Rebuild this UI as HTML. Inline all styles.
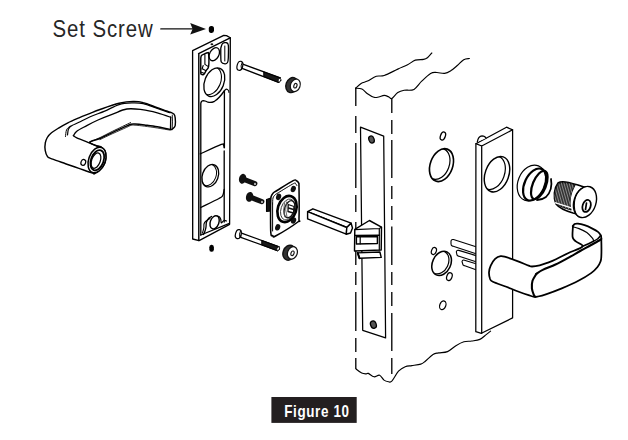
<!DOCTYPE html>
<html><head><meta charset="utf-8"><style>
html,body{margin:0;padding:0;background:#fff;}
body{width:628px;height:440px;overflow:hidden;position:relative;}
svg{position:absolute;left:0;top:0;}
.t{position:absolute;font-family:"Liberation Sans",sans-serif;white-space:nowrap;}
</style></head><body>
<svg width="628" height="440" viewBox="0 0 628 440">
<g stroke="#000" stroke-linecap="round" stroke-linejoin="round" fill="none">
<path d="M355.6,88.2 C356.5,87.4 359.1,84.6 361.1,83.4 C363.1,82.2 365.0,82.3 367.5,81.1 C370.0,79.9 373.5,77.2 376.3,76.3 C379.1,75.4 380.6,76.7 384.2,75.5 C387.8,74.3 393.9,70.9 397.8,69.1 C401.7,67.3 404.7,66.3 407.6,64.8 C410.5,63.3 412.6,61.0 415.3,60.1 C418.0,59.2 421.6,59.8 423.6,59.4 C425.6,59.0 426.0,58.9 427.4,57.8 C428.8,56.7 431.1,53.8 431.8,53.0" fill="none" stroke-width="1.16" />
<path d="M355.6,88.2 C356.7,88.3 359.9,88.1 361.9,89.0 C363.9,89.9 365.5,92.4 367.5,93.8 C369.5,95.2 372.0,96.8 373.9,97.3 C375.8,97.8 377.0,97.3 378.7,97.0 C380.4,96.7 382.5,95.4 384.2,95.4 C385.9,95.4 387.8,96.5 389.0,97.0 C390.2,97.5 390.2,99.3 391.7,98.6 C393.2,97.9 395.7,94.0 397.8,92.6 C399.9,91.2 401.4,90.8 404.1,90.3 C406.8,89.8 411.1,90.9 414.0,89.4 C416.9,87.9 418.9,83.9 421.7,81.2 C424.5,78.5 428.1,74.9 430.6,73.4 C433.1,72.0 434.6,72.5 436.9,72.5 C439.2,72.5 442.2,73.7 444.6,73.4 C447.0,73.1 448.9,71.9 451.0,70.6 C453.1,69.3 455.2,67.3 457.3,65.5 C459.4,63.7 461.7,60.9 463.7,59.7 C465.7,58.5 468.4,58.7 469.4,58.5" fill="none" stroke-width="1.16" />
<path d="M356.1,369.0 C357.0,369.7 360.0,372.2 361.7,373.0 C363.4,373.8 365.1,373.8 366.2,373.9 C367.3,374.0 367.1,372.9 368.4,373.4 C369.7,373.9 372.1,376.5 374.0,376.8 C375.9,377.1 377.9,374.6 379.6,375.2 C381.3,375.8 382.5,379.0 384.0,380.1 C385.5,381.2 387.2,381.5 388.5,381.7 C389.8,381.9 390.1,382.9 391.8,381.2 C393.5,379.4 396.3,373.6 398.5,371.2 C400.7,368.8 403.0,367.6 405.2,366.7 C407.4,365.8 409.3,366.0 411.9,365.6 C414.5,365.2 418.6,364.8 420.8,364.1 C423.0,363.4 423.3,362.8 425.3,361.2 C427.3,359.6 430.8,355.9 433.0,354.5 C435.2,353.1 436.2,353.4 438.6,352.9 C441.0,352.4 444.6,352.8 447.5,351.6 C450.4,350.4 453.2,347.3 455.9,345.7 C458.6,344.1 461.2,342.6 463.9,341.8 C466.5,341.0 469.1,341.4 471.8,341.0 C474.5,340.6 477.4,340.5 479.8,339.4 C482.2,338.3 484.4,336.0 486.2,334.6 C488.0,333.2 489.9,331.7 490.6,331.1" fill="none" stroke-width="1.16" />
<path d="M355.8,88 V106 M355.8,116 V133 M355.8,143 V188 M355.8,195 V212 M355.8,222 V265 M355.8,272 V285 M355.8,292 V331 M355.8,338 V352 M355.8,358 V369 " fill="none" stroke-width="1.32" stroke-linecap="butt"/>
<path d="M391.8,98.6 V113 M391.8,120 V134 M391.8,140 V178 M391.8,186 V199 M391.8,206 V220 M391.8,226.5 V265 M391.8,272 V285 M391.8,292 V306 M391.8,313 V351 M391.8,358 V374 " fill="none" stroke-width="1.32" stroke-linecap="butt"/>
<path d="M360.5,127.2 L383.7,136.1 L385.6,337.9 L362.7,330.3Z" fill="none" stroke-width="1.26" />
<ellipse cx="371.5" cy="139.5" rx="2.6" ry="3.6" transform="rotate(-20 371.5 139.5)" fill="#555" stroke="#000" stroke-width="1.32"/>
<ellipse cx="373.4" cy="324.6" rx="2.8" ry="3.8" transform="rotate(-20 373.4 324.6)" fill="#555" stroke="#000" stroke-width="1.32"/>
<path d="M354.8,229.4 L369.4,220.5 L381.5,227.2 L381.2,250.0 L354.5,251.0Z" fill="#fff" stroke-width="1.43" />
<path d="M354.8,229.7 L379.3,228.5 L381.5,227.2 M379.3,228.5 V250" fill="none" stroke-width="1.21" />
<path d="M355,235.5 L379.3,235.3" fill="none" stroke-width="1.65" />
<path d="M356.4,236.7 L377.4,236.5 L377.4,243.5 L356.4,244.0Z" fill="none" stroke-width="1.43" />
<path d="M360.2,237 V243.8" fill="none" stroke-width="1.21" />
<path d="M357.6,252.9 L379.9,252.0 L381.2,257.4 L359.6,258.3Z" fill="#fff" stroke-width="1.43" />
<path d="M357.8,253 L359.4,258.3" fill="none" stroke-width="1.98" />
<ellipse cx="442.9" cy="136" rx="2.4" ry="4.2" transform="rotate(20 442.9 136)" stroke-width="1.32"/>
<ellipse cx="441.5" cy="165.1" rx="11.2" ry="17" transform="rotate(20 441.5 165.1)" stroke-width="1.65"/>
<clipPath id="cc1"><ellipse cx="441.5" cy="165.1" rx="11.2" ry="17" transform="rotate(20 441.5 165.1)"/></clipPath>
<g clip-path="url(#cc1)"><ellipse cx="438.12" cy="163.87" rx="11.2" ry="16.0" transform="rotate(20 438.12 163.87)" stroke-width="1.21"/></g>
<ellipse cx="441.6" cy="263.4" rx="9.1" ry="12.7" transform="rotate(25 441.6 263.4)" stroke-width="1.54"/>
<clipPath id="cc2"><ellipse cx="441.6" cy="263.4" rx="9.1" ry="12.7" transform="rotate(25 441.6 263.4)"/></clipPath>
<g clip-path="url(#cc2)"><ellipse cx="439.24" cy="262.30" rx="9.1" ry="12.1" transform="rotate(25 439.24 262.30)" stroke-width="1.21"/></g>
<ellipse cx="433.9" cy="251" rx="2.4" ry="3.6" transform="rotate(20 433.9 251)" stroke-width="1.21"/>
<ellipse cx="449.4" cy="276.6" rx="2.6" ry="4" transform="rotate(20 449.4 276.6)" stroke-width="1.21"/>
<ellipse cx="442.8" cy="305.3" rx="3" ry="4.5" transform="rotate(20 442.8 305.3)" stroke-width="1.21"/>
<path d="M476,246.8 L453.5,239.6 Q451.5,239.0 451.0,241.0 L451.0,244.0 Q451.0,245.7 452.5,246.1 L476,253.8" fill="#fff" stroke-width="1.10" />
<path d="M476,255.6 L458.8,250.4 Q456.8,249.8 456.3,251.8 L456.8,254.0 Q456.8,255.7 458.3,256.1 L476,261.8" fill="#fff" stroke-width="1.10" />
<path d="M476,263.8 L464.5,260.2 Q462.5,259.6 462.0,261.6 L462.6,263.5 Q462.6,265.2 464.1,265.6 L476,269.8" fill="#fff" stroke-width="1.10" />
<path d="M475.9,143.7 L506.5,127.2 L512.6,129.8 L512.6,317.9 L481.4,333.3 L475.8,331.7Z" fill="#fff" stroke-width="1.26" />
<path d="M475.9,143.7 L481.7,146 L512.6,129.8 M481.7,146 V333.3" fill="none" stroke-width="1.26" />
<path d="M477.3,141.8 Q478.3,136 482,135.8 Q485,135.8 486,138.3" stroke-width="1.21" fill="#fff"/>
<ellipse cx="497" cy="174.2" rx="11.8" ry="18.4" transform="rotate(20 497 174.2)" stroke-width="1.43"/>
<clipPath id="cc3"><ellipse cx="497" cy="174.2" rx="11.8" ry="18.4" transform="rotate(20 497 174.2)"/></clipPath>
<g clip-path="url(#cc3)"><ellipse cx="492.77" cy="172.66" rx="11.8" ry="17.4" transform="rotate(20 492.77 172.66)" stroke-width="1.21"/></g>
<ellipse cx="531.5" cy="183" rx="13.5" ry="18.5" transform="rotate(22 531.5 183)" stroke-width="1.21" fill="#fff"/>
<ellipse cx="539.3" cy="185" rx="6.6" ry="15" transform="rotate(22 539.3 185)" stroke-width="2.20"/>
<ellipse cx="534.6" cy="184.5" rx="10" ry="17" transform="rotate(25 534.6 184.5)" stroke-width="2.20"/>
<path d="M551,179 Q553,190 546,197 Q542,200 537,200" stroke-width="1.76"/>
<path d="M558,183 C561,181 566,181 584,187 L585,216 L573,213 C566,211 560,209 556,204 C553,197 554,188 558,183 Z" fill="#fff" stroke-width="1.54"/>
<clipPath id="thr"><path d="M558,184 C561,182 566,182 575,185 C570,194 569,203 571,210 C565,208 560,207 556,203 C553,197 555,189 558,184 Z"/></clipPath>
<path d="M558,184 C561,182 566,182 575,185 C570,194 569,203 571,210 C565,208 560,207 556,203 C553,197 555,189 558,184 Z" fill="#333" stroke="#111" stroke-width="1.10"/>
<g clip-path="url(#thr)"><path d="M548.0,182 L556.0,210" stroke="#bbb" stroke-width="0.66"/><path d="M550.6,182 L558.6,210" stroke="#bbb" stroke-width="0.66"/><path d="M553.2,182 L561.2,210" stroke="#bbb" stroke-width="0.66"/><path d="M555.8,182 L563.8,210" stroke="#bbb" stroke-width="0.66"/><path d="M558.4,182 L566.4,210" stroke="#bbb" stroke-width="0.66"/><path d="M561.0,182 L569.0,210" stroke="#bbb" stroke-width="0.66"/><path d="M563.6,182 L571.6,210" stroke="#bbb" stroke-width="0.66"/><path d="M566.2,182 L574.2,210" stroke="#bbb" stroke-width="0.66"/><path d="M568.8,182 L576.8,210" stroke="#bbb" stroke-width="0.66"/><path d="M571.4,182 L579.4,210" stroke="#bbb" stroke-width="0.66"/></g>
<path d="M555.5,202.8 L573,208.3" stroke="#fff" stroke-width="1.32"/>
<ellipse cx="585" cy="202" rx="11" ry="16" transform="rotate(18 585 202)" fill="#fff" stroke-width="1.43"/>
<path d="M586,186.5 C579,188 574,196 574.3,206 C574.5,211 576,215 579,217" stroke-width="1.10"/>
<ellipse cx="586.6" cy="205.9" rx="4" ry="6.2" transform="rotate(18 586.6 205.9)" stroke-width="1.76"/>
<path d="M586.5,203 L585.5,209.5" stroke-width="1.65"/>
<path d="M572.9,226.4 C573.2,226.0 573.8,224.6 574.6,224.1 C575.4,223.6 576.2,223.4 577.9,223.6 C579.6,223.8 582.2,224.4 584.6,225.2 C587.0,226.0 590.2,227.5 592.4,228.6 C594.6,229.7 596.6,230.8 598.0,231.9 C599.4,233.0 600.2,234.1 600.8,235.3 C601.3,236.5 601.2,235.6 601.3,239.2 C601.4,242.8 601.5,253.2 601.3,257.0 C601.1,260.8 600.9,260.3 600.3,262.0 C599.7,263.7 599.0,265.1 597.5,267.0 C596.0,268.9 594.3,270.8 591.1,273.1 C587.9,275.4 583.3,278.2 578.4,280.8 C573.5,283.4 567.1,286.2 561.8,288.4 C556.5,290.6 550.6,292.8 546.6,294.1 C542.6,295.5 540.1,296.1 538.0,296.5 C535.9,296.9 535.8,297.0 534.2,296.8 C532.6,296.6 531.4,296.1 528.6,295.2 C525.8,294.3 521.1,292.6 517.4,291.2 C513.7,289.8 510.4,288.4 506.3,286.8 C502.2,285.2 495.6,283.1 492.9,281.8 C490.2,280.5 490.8,280.6 490.1,279.0 C489.5,277.4 488.9,274.5 489.0,272.3 C489.1,270.1 489.7,267.8 490.7,265.6 C491.7,263.4 493.4,260.5 495.1,258.9 C496.8,257.3 498.8,256.4 500.7,256.1 C502.6,255.8 503.5,256.4 506.3,257.2 C509.1,258.0 513.7,259.7 517.4,261.1 C521.1,262.5 526.2,264.7 528.6,265.6 C531.0,266.5 530.1,266.5 532.0,266.5 C533.9,266.5 536.9,266.1 539.7,265.4 C542.5,264.7 546.0,263.3 548.7,262.3 C551.4,261.3 552.7,260.8 556.0,259.2 C559.3,257.6 564.1,255.1 568.5,253.0 C572.9,250.9 581.2,248.5 582.4,246.5 C583.6,244.5 577.1,242.8 575.5,241.2 C573.9,239.6 573.0,239.5 572.6,237.0 C572.2,234.5 572.9,228.2 572.9,226.4 C572.9,224.6 572.6,226.8 572.9,226.4Z" fill="#fff" stroke-width="1.76" />
<path d="M536.4,273.8 C537.5,273.1 539.5,271.4 542.7,269.9 C545.9,268.3 551.2,266.5 555.5,264.5 C559.8,262.5 564.0,260.1 568.2,257.8 C572.5,255.5 577.2,252.6 581.0,250.5 C584.8,248.4 587.9,246.8 591.1,245.0 C594.3,243.2 598.3,241.0 600.0,240.0 C601.7,239.0 601.1,239.2 601.3,239.0" fill="none" stroke-width="2.09" />
<path d="M536.4,273.8 C535.8,275.0 533.2,278.4 532.5,280.8 C531.8,283.2 531.7,286.1 531.9,288.4 C532.1,290.7 533.2,293.4 533.8,294.8 C534.4,296.2 535.0,296.5 535.3,296.8" fill="none" stroke-width="2.09" />
<path d="M582.4,246.5 C583.9,245.8 588.6,243.8 591.1,242.5 C593.6,241.2 595.9,240.2 597.5,239.0 C599.1,237.8 600.2,235.9 600.8,235.3" fill="none" stroke-width="1.54" />
<path d="M573.4,226.9 C574.3,227.2 576.8,227.7 579.0,228.6 C581.2,229.5 584.6,230.9 586.8,232.5 C589.0,234.1 591.3,236.8 592.4,238.1 C593.5,239.4 593.3,240.1 593.5,240.5" fill="none" stroke-width="1.21" />
<path d="M93.5,173.2 C92.8,173.0 93.5,173.4 91.0,172.6 C88.5,171.8 82.5,169.6 78.2,168.1 C74.0,166.6 69.8,165.2 65.5,163.7 C61.2,162.2 55.7,160.4 52.7,159.2 C49.7,158.0 48.9,158.2 47.6,156.7 C46.4,155.2 45.6,152.6 45.2,150.3 C44.8,148.0 44.9,145.1 45.3,143.0 C45.6,140.9 46.3,139.2 47.3,137.5 C48.3,135.8 49.5,134.4 51.5,132.8 C53.5,131.2 56.3,129.5 59.0,127.8 C61.7,126.1 64.6,124.5 67.9,122.8 C71.2,121.1 75.3,119.4 79.0,117.8 C82.7,116.2 86.7,114.7 90.2,113.3 C93.7,111.9 95.2,111.2 100.0,109.5 C104.8,107.8 113.6,104.6 119.1,103.3 C124.6,102.0 129.1,101.5 133.1,101.4 C137.1,101.3 139.3,101.5 143.3,102.6 C147.3,103.6 152.8,106.1 157.3,107.7 C161.8,109.3 167.3,111.1 170.1,112.2 C172.9,113.3 173.1,113.1 173.9,114.1 C174.8,115.0 175.0,116.0 175.2,117.9 C175.4,119.8 175.6,123.8 175.2,125.6 C174.8,127.4 173.4,128.2 172.6,128.8 C171.8,129.4 172.6,129.7 170.1,129.4 C167.6,129.1 161.6,127.5 157.3,126.8 C153.1,126.1 148.3,125.5 144.6,125.0 C140.9,124.5 137.3,124.1 135.0,124.0 C132.7,123.9 132.4,123.8 131.0,124.2 C129.6,124.6 129.6,124.8 126.5,126.2 C123.5,127.6 117.1,130.3 112.7,132.4 C108.3,134.5 103.8,136.9 100.0,138.5 C96.2,140.1 90.4,140.8 89.7,142.0 C89.0,143.2 94.2,145.0 96.1,145.8 C98.0,146.7 99.5,145.9 101.1,147.1 C102.7,148.3 105.1,149.8 105.6,152.8 C106.1,155.8 105.8,161.6 104.0,165.0 C102.2,168.4 96.8,172.1 95.0,173.5 C93.2,174.9 94.2,173.3 93.5,173.2Z" fill="#fff" stroke-width="1.43" />
<path d="M67.5,135.0 C67.7,134.0 67.8,130.6 68.5,129.0 C69.2,127.4 70.2,126.6 72.0,125.5 C73.8,124.4 76.0,123.8 79.0,122.3 C82.0,120.8 85.9,118.6 90.2,116.7 C94.5,114.8 99.9,113.1 104.7,111.1 C109.5,109.1 114.4,106.0 119.1,104.6 C123.8,103.2 129.1,103.1 133.1,102.9 C137.1,102.8 139.3,102.8 143.3,103.7 C147.3,104.6 152.8,106.9 157.3,108.4 C161.8,109.9 168.0,112.1 170.1,112.8" fill="none" stroke-width="1.21" />
<path d="M65.5,136.5 C65.7,135.4 65.8,131.8 66.5,130.0 C67.2,128.2 69.4,126.7 70.0,126.0" fill="none" stroke-width="0.99" />
<path d="M73.4,135.6 C74.0,134.9 74.6,132.9 76.8,131.2 C79.0,129.5 83.3,127.5 86.8,125.6 C90.3,123.7 93.7,121.9 98.0,120.0 C102.3,118.1 107.9,115.9 112.7,114.1 C117.5,112.3 121.9,109.8 126.8,109.0 C131.7,108.2 136.9,109.0 142.0,109.6 C147.1,110.2 152.5,111.5 157.3,112.8 C162.1,114.1 168.5,116.5 170.7,117.3" fill="none" stroke-width="1.32" />
<path d="M170.7,116.8 C170.7,117.8 170.6,121.0 170.6,123.0 C170.6,125.0 170.5,128.0 170.5,129.0" fill="none" stroke-width="1.32" />
<path d="M172.3,115 Q172.8,122 172.2,128.6" fill="none" stroke-width="0.88" />
<path d="M100.0,139.6 C102.1,138.6 108.3,135.6 112.7,133.6 C117.1,131.6 123.5,128.8 126.5,127.4 C129.6,126.0 129.6,125.8 131.0,125.4 C132.4,125.0 132.7,125.1 135.0,125.2 C137.3,125.3 140.9,125.7 144.6,126.2 C148.3,126.7 153.0,127.3 157.3,128.0 C161.6,128.7 168.1,129.8 170.3,130.2" fill="none" stroke-width="0.77" />
<path d="M73.4,135.6 C74.0,136.0 74.4,136.8 76.8,137.9 C79.2,139.0 84.4,140.9 87.9,142.3 C91.4,143.7 95.8,145.4 98.0,146.2 C100.2,147.0 100.6,146.9 101.1,147.1" fill="none" stroke-width="1.32" />
<path d="M89.7,142.0 C91.4,141.3 96.2,139.4 100.0,137.6 C103.8,135.8 107.6,133.7 112.7,131.2 C117.8,128.7 127.6,124.0 130.6,122.6" fill="none" stroke-width="0.88" />
<ellipse cx="97" cy="160" rx="8.3" ry="13.3" transform="rotate(20 97 160)" stroke-width="1.54" fill="#fff"/>
<ellipse cx="97.3" cy="160.2" rx="6.3" ry="10.5" transform="rotate(20 97.3 160.2)" stroke-width="1.76"/>
<ellipse cx="96" cy="160.6" rx="4.3" ry="8" transform="rotate(20 96 160.6)" stroke-width="1.21"/>
<ellipse cx="83.3" cy="162.4" rx="2.3" ry="3" transform="rotate(20 83.3 162.4)" stroke-width="1.21"/>
<path d="M192.6,50.6 L223.8,35.4 L226.5,35.6 L230.3,37.8 L229.6,224.3 L199.1,240.6 L192.7,239.0Z" fill="#fff" stroke-width="1.32" />
<path d="M198.6,53.6 L230.2,37.8 M198.8,53.6 V240.5" fill="none" stroke-width="1.43" />
<ellipse cx="211.9" cy="44.3" rx="1.4" ry="1" fill="#111" stroke="none"/>
<path d="M200.8,58.0 C200.9,57.6 200.9,56.2 201.5,55.5 C202.1,54.8 203.5,54.5 204.5,54.0 C205.5,53.5 206.9,52.8 207.6,52.8 C208.3,52.8 208.4,51.7 208.6,54.0 C208.8,56.3 209.0,63.7 208.6,66.4 C208.2,69.2 206.9,69.3 206.2,70.5 C205.5,71.7 205.0,72.8 204.5,73.5 C204.0,74.2 203.8,74.6 203.2,74.7 C202.6,74.8 201.6,74.4 201.2,74.0 C200.8,73.6 200.9,75.2 200.8,72.5 C200.7,69.8 200.8,60.4 200.8,58.0" fill="none" stroke-width="1.43" />
<path d="M204.9,55 V64.4 L208.4,66.6 M202.3,68.8 L206,70.8 M201.3,72.2 L204.6,73.4 M203.2,65.5 L202,69" fill="none" stroke-width="1.10" />
<ellipse cx="214.3" cy="54.2" rx="4.6" ry="7" transform="rotate(28 214.3 54.2)" stroke-width="1.32"/>
<path d="M220.8,48.0 C221.1,47.3 221.6,44.5 222.5,43.6 C223.4,42.7 225.0,42.5 226.0,42.7 C227.0,42.9 227.9,42.5 228.3,45.0 C228.7,47.5 228.4,55.1 228.3,58.0 C228.2,60.9 228.1,61.5 227.5,62.5 C226.9,63.5 226.0,63.9 225.0,63.8 C224.0,63.7 222.0,63.3 221.3,62.0 C220.6,60.7 220.9,58.3 220.8,56.0 C220.7,53.7 220.8,49.3 220.8,48.0" fill="none" stroke-width="1.32" />
<path d="M224.8,46 V61" fill="none" stroke-width="0.99" />
<ellipse cx="214.3" cy="82.2" rx="9.6" ry="15" transform="rotate(22 214.3 82.2)" stroke-width="1.32"/>
<clipPath id="cc4"><ellipse cx="214.3" cy="82.2" rx="9.6" ry="15" transform="rotate(22 214.3 82.2)"/></clipPath>
<g clip-path="url(#cc4)"><ellipse cx="211.05" cy="80.89" rx="9.6" ry="14.4" transform="rotate(22 211.05 80.89)" stroke-width="1.10"/></g>
<path d="M200.8,235 V103.5 Q201,100.6 203.5,100.6 Q206,101 208,102.2 Q211,103 214.5,101.3 Q219,98.5 224.6,90.5" fill="none" stroke-width="1.32" />
<path d="M224.6,90.5 C224.9,90.3 225.8,89.1 226.5,89.1 C227.2,89.1 228.1,90.0 228.5,90.5 C228.9,91.0 228.8,92.1 228.9,92.4" fill="none" stroke-width="1.10" />
<path d="M224.4,91 V147.7 M224.2,151 V222" fill="none" stroke-width="1.32" />
<path d="M200.3,153.9 C203.8,152.3 217.4,145.9 221.3,144.4 C225.2,142.9 223.0,144.6 223.5,145.2 C224.0,145.8 224.1,147.3 224.2,147.7" fill="none" stroke-width="1.32" />
<ellipse cx="210.3" cy="175.7" rx="7.9" ry="11.6" transform="rotate(20 210.3 175.7)" stroke-width="1.32"/>
<clipPath id="cc5"><ellipse cx="210.3" cy="175.7" rx="7.9" ry="11.6" transform="rotate(20 210.3 175.7)"/></clipPath>
<g clip-path="url(#cc5)"><ellipse cx="208.23" cy="174.95" rx="7.9" ry="11.0" transform="rotate(20 208.23 174.95)" stroke-width="0.99"/></g>
<path d="M200.8,207.5 C203.8,206.0 215.3,200.5 219.0,198.5 C222.7,196.5 221.8,197.0 222.7,195.5 C223.6,194.0 223.9,190.5 224.2,189.5" fill="none" stroke-width="1.32" />
<ellipse cx="214.6" cy="222.3" rx="4.3" ry="6.8" transform="rotate(20 214.6 222.3)" stroke-width="1.43"/>
<path d="M211.6,216.5 C211.2,216.8 209.8,217.1 209.0,218.0 C208.2,218.9 207.0,220.5 206.5,222.0 C206.0,223.5 206.2,225.5 206.0,227.0 C205.8,228.5 205.4,229.8 205.0,231.0 C204.6,232.2 203.8,233.9 203.5,234.5" fill="none" stroke-width="1.32" />
<path d="M210.0,218.5 C209.2,219.0 206.5,220.6 205.5,221.5 C204.5,222.4 204.3,222.9 204.0,224.0 C203.7,225.1 204.1,226.5 203.8,228.0 C203.6,229.5 202.7,232.2 202.5,233.0" fill="none" stroke-width="1.10" />
<path d="M217.0,216.0 C217.4,216.2 218.9,216.4 219.5,217.0 C220.1,217.6 220.5,218.5 220.8,219.5 C221.1,220.5 220.8,222.8 221.3,223.0 C221.8,223.2 223.1,220.8 224.0,220.5 C224.9,220.2 226.1,220.9 226.5,221.0" fill="none" stroke-width="1.21" />
<path d="M200.8,235 L228.8,223.6" fill="none" stroke-width="1.32" />
<path d="M242.1,63.9 L280.3,77.9 L278.8,82.4 L242.1,68.4Z" fill="#fff" stroke-width="1.32" />
<path d="M263.8,71.9 L280.3,77.9 L278.8,82.4 L263.8,76.4Z" fill="#1a1a1a" stroke-width="1.10" />
<ellipse cx="279.5" cy="80.2" rx="1.3" ry="2" transform="rotate(20 279.5 80.2)" fill="#fff" stroke="#111" stroke-width="0.88"/>
<ellipse cx="239.9" cy="65.8" rx="2.8" ry="4.6" transform="rotate(15 239.9 65.8)" fill="#fff" stroke-width="1.21"/>
<path d="M242.1,62.6 Q240.2,65.8 241.5,69.4" stroke-width="0.99"/>
<path d="M240.8,232.8 L279.0,246.8 L277.5,250.7 L240.8,237.3Z" fill="#fff" stroke-width="1.32" />
<path d="M261.8,240.5 L279.0,246.8 L277.5,250.7 L261.8,244.7Z" fill="#1a1a1a" stroke-width="1.10" />
<ellipse cx="278.2" cy="248.8" rx="1.3" ry="2" transform="rotate(20 278.2 248.8)" fill="#fff" stroke="#111" stroke-width="0.88"/>
<ellipse cx="238.3" cy="234.1" rx="2.8" ry="4.6" transform="rotate(15 238.3 234.1)" fill="#fff" stroke-width="1.21"/>
<path d="M240.5,230.9 Q238.6,234.1 239.9,237.7" stroke-width="0.99"/>
<ellipse cx="292.0" cy="85.1" rx="6" ry="7.7" transform="rotate(20 292.0 85.1)" fill="#333" stroke="#111" stroke-width="1.43"/>
<ellipse cx="295.3" cy="85.3" rx="4.8" ry="6.4" transform="rotate(20 295.3 85.3)" fill="#fff" stroke="#111" stroke-width="1.21"/>
<ellipse cx="295.4" cy="85.7" rx="1.5" ry="2.4" transform="rotate(20 295.4 85.7)" fill="#fff" stroke="#111" stroke-width="1.10"/>
<ellipse cx="289.1" cy="252.7" rx="6" ry="7.7" transform="rotate(20 289.1 252.7)" fill="#333" stroke="#111" stroke-width="1.43"/>
<ellipse cx="292.4" cy="252.9" rx="4.8" ry="6.4" transform="rotate(20 292.4 252.9)" fill="#fff" stroke="#111" stroke-width="1.21"/>
<ellipse cx="292.5" cy="253.3" rx="1.5" ry="2.4" transform="rotate(20 292.5 253.3)" fill="#fff" stroke="#111" stroke-width="1.10"/>
<line x1="242.6" y1="178.8" x2="254.8" y2="183.6" stroke="#111" stroke-width="5.2" stroke-linecap="round"/>
<ellipse cx="242.6" cy="178.8" rx="3.6" ry="5" transform="rotate(15 242.6 178.8)" fill="#111" stroke="none"/>
<ellipse cx="255.0" cy="183.9" rx="0.9" ry="1.2" fill="#ccc" stroke="none"/>
<line x1="249.6" y1="196.9" x2="261.8" y2="201.6" stroke="#111" stroke-width="5.2" stroke-linecap="round"/>
<ellipse cx="249.6" cy="196.9" rx="3.6" ry="5" transform="rotate(15 249.6 196.9)" fill="#111" stroke="none"/>
<ellipse cx="262.0" cy="201.9" rx="0.9" ry="1.2" fill="#ccc" stroke="none"/>
<path d="M266.5,199.5 L270.9,198 L270.9,211 L266.5,211.5 Z" fill="#111" stroke-width="1.10"/>
<path d="M270.6,204.0 C270.7,202.8 270.6,198.8 271.0,197.0 C271.4,195.2 272.0,194.3 273.0,193.2 C274.0,192.1 273.6,192.6 277.0,190.5 C280.4,188.4 289.9,182.2 293.2,180.6 C296.4,179.0 295.6,180.4 296.5,180.8 C297.4,181.2 298.2,182.0 298.6,183.0 C299.0,184.0 298.9,181.1 299.0,187.0 C299.1,192.9 299.2,212.7 299.0,218.5 C298.8,224.3 301.6,219.1 297.8,222.0 C294.0,224.9 280.2,233.5 276.0,235.8 C271.8,238.1 273.7,236.2 272.8,235.6 C271.9,235.0 271.2,237.8 270.8,232.5 C270.4,227.2 270.6,208.8 270.6,204.0" fill="#fff" stroke-width="1.54" />
<path d="M272.6,204.0 C272.7,203.0 272.6,199.5 273.0,198.0 C273.4,196.5 274.1,195.9 275.0,195.0 C275.9,194.1 275.4,194.5 278.5,192.6 C281.6,190.7 290.6,185.1 293.5,183.6 C296.4,182.1 295.1,183.5 295.7,183.8 C296.2,184.1 296.6,185.2 296.8,185.5" fill="none" stroke-width="0.99" />
<path d="M272.6,204 V231" fill="none" stroke-width="0.99" />
<ellipse cx="278.6" cy="196.9" rx="2.5" ry="3.3" transform="rotate(20 278.6 196.9)" fill="#111" stroke="none"/>
<ellipse cx="293.3" cy="189" rx="2.5" ry="3.3" transform="rotate(20 293.3 189)" fill="#111" stroke="none"/>
<ellipse cx="277.7" cy="227.3" rx="2.5" ry="3.3" transform="rotate(20 277.7 227.3)" fill="#111" stroke="none"/>
<ellipse cx="293.6" cy="220.5" rx="2.5" ry="3.3" transform="rotate(20 293.6 220.5)" fill="#111" stroke="none"/>
<ellipse cx="287" cy="209" rx="9.2" ry="13.4" transform="rotate(18 287 209)" fill="#fff" stroke="#000" stroke-width="2.64"/>
<ellipse cx="287.8" cy="209.5" rx="6.8" ry="10.8" transform="rotate(18 287.8 209.5)" fill="none" stroke="#333" stroke-width="0.88"/>
<ellipse cx="289.5" cy="209.2" rx="5" ry="8.8" transform="rotate(18 289.5 209.2)" fill="none" stroke="#111" stroke-width="1.32"/>
<path d="M284.5,203 Q282.5,210 285,217 M286.5,202 Q284.5,210 287,217" stroke="#555" stroke-width="0.88"/>
<path d="M288.2,204.5 L294,206.5 L293.5,213 L288,211.5 Z" fill="#fff" stroke="#111" stroke-width="1.32"/>
<path d="M288.5,208 L293.5,209.5" stroke="#111" stroke-width="1.43"/>
<path d="M307.6,211.7 L312.9,208.8 L351.1,223.2 L346.8,227.5Z" fill="#fff" stroke-width="1.43" />
<path d="M307.6,211.7 L346.8,227.5 L346.3,234.2 L307.6,218.9Z" fill="#fff" stroke-width="1.43" />
<path d="M346.8,227.5 L351.1,223.2 L352.5,228.0 L350.5,233.0 L346.3,234.2Z" fill="#fff" stroke-width="1.43" />
<rect x="208.8" y="26" width="5.2" height="6.9" rx="2.3" ry="2.6" fill="#000" stroke="none"/>
<rect x="209.3" y="244.7" width="4.6" height="7" rx="2.1" ry="2.5" fill="#000" stroke="none"/>
<line x1="160.8" y1="28.9" x2="194" y2="28.9" stroke="#111" stroke-width="1.32"/>
<path d="M190.2,23.1 L206,28.9 L190.2,34.4 L192.6,28.9 Z" fill="#111" stroke="none"/>
<text transform="translate(52.6,37) scale(0.85,1)" x="0" y="0" font-family="Liberation Sans, sans-serif" font-size="24" fill="#262626" stroke="none" letter-spacing="1.05">Set Screw</text>
<rect x="271.4" y="397" width="85.3" height="25.9" fill="#231f20" stroke="none"/>
<text transform="translate(284.2,416.6) scale(0.85,1)" x="0" y="0" font-family="Liberation Sans, sans-serif" font-weight="bold" font-size="15.8" fill="#fff" stroke="none" letter-spacing="0.75">Figure 10</text>
</g>
</svg>

</body></html>
